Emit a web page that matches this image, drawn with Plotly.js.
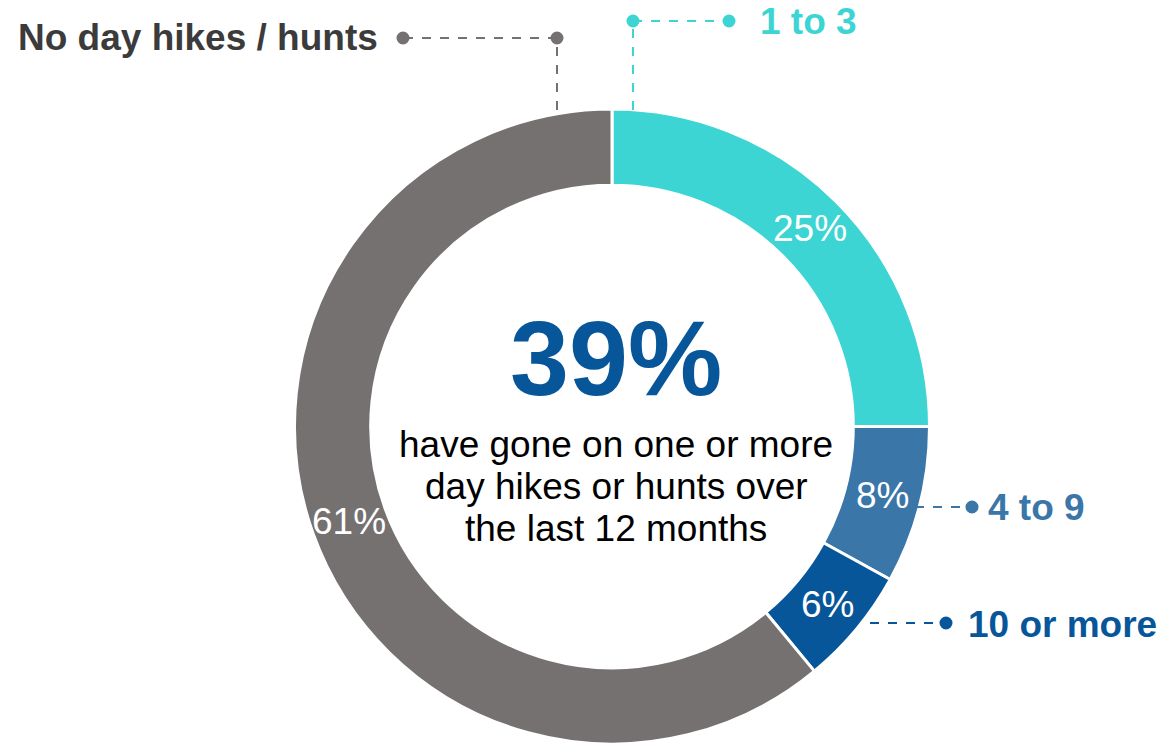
<!DOCTYPE html>
<html>
<head>
<meta charset="utf-8">
<script src="https://cdn.plot.ly/plotly-3.0.1.min.js"></script>
<style>html,body{margin:0;padding:0;background:#fff;}#chart{width:1161px;height:744px;}</style>
</head>
<body>
<div id="chart"></div>
<script>
const categories = ["1 to 3", "4 to 9", "10 or more", "No day hikes / hunts"];
const values = [25, 8, 6, 61];
const colors = ["#3DD5D3", "#3A76A8", "#08569A", "#767171"];
const labelColors = ["#3DD5D3", "#3A76A8", "#08569A", "#3B3B3B"];
const headline = "39%";
const subtitleLines = ["have gone on one or more", "day hikes or hunts over", "the last 12 months"];

const W = 1161, H = 744;
const px = x => x / W;
const py = y => 1 - y / H;
const FONT = "Liberation Sans, Arial, sans-serif";

// donut geometry (pixels)
const CX = 612, CY = 426.5, R = 317.5, HOLE = 0.76;

const trace = {
  type: "pie",
  labels: categories,
  values: values,
  sort: false,
  direction: "clockwise",
  rotation: 0,
  hole: HOLE,
  marker: {colors: colors, line: {color: "#ffffff", width: 3}},
  textinfo: "none",
  hoverinfo: "label+percent",
  showlegend: false,
  domain: {x: [px(CX - R), px(CX + R)], y: [0, py(CY - R)]}
};

// callout geometry (pixel space)
const callouts = [
  {pts: [[633, 110], [633, 21], [729, 21]], dots: [[633, 21], [729, 21]], text: [758, 22, "left"]},
  {pts: [[915, 507], [972, 507]], dots: [[972, 507]], text: [986, 508, "left"]},
  {pts: [[870, 623], [946, 623]], dots: [[946, 623]], text: [966, 624, "left"]},
  {pts: [[557, 110], [557, 38], [403, 38]], dots: [[557, 38], [403, 38]], text: [380, 38, "right"]}
];

const shapes = [];
const annotations = [];
callouts.forEach((c, i) => {
  const col = colors[i];
  for (let k = 0; k < c.pts.length - 1; k++) {
    shapes.push({type: "line", xref: "paper", yref: "paper",
      x0: px(c.pts[k][0]), y0: py(c.pts[k][1]), x1: px(c.pts[k+1][0]), y1: py(c.pts[k+1][1]),
      line: {color: col, width: 2, dash: "dash"}});
  }
  c.dots.forEach(d => {
    const r = 6.5;
    shapes.push({type: "circle", xref: "paper", yref: "paper",
      x0: px(d[0] - r), x1: px(d[0] + r), y0: py(d[1] + r), y1: py(d[1] - r),
      fillcolor: col, line: {color: col, width: 0}});
  });
  annotations.push({xref: "paper", yref: "paper", x: px(c.text[0]), y: py(c.text[1]),
    xanchor: c.text[2], yanchor: "middle", showarrow: false,
    text: "<b>" + categories[i] + "</b>",
    font: {family: FONT, size: 37, color: labelColors[i]}});
});

// slice percentage labels at the middle of each ring segment
const total = values.reduce((a, b) => a + b, 0);
const midR = R * (1 + HOLE) / 2;
let cum = 0;
values.forEach(v => {
  const mid = (cum + v / 2) / total * 2 * Math.PI;
  cum += v;
  const x = CX + midR * Math.sin(mid);
  const y = CY - midR * Math.cos(mid);
  annotations.push({xref: "paper", yref: "paper", x: px(x), y: py(y), xanchor: "center", yanchor: "middle",
    showarrow: false, text: Math.round(v / total * 100) + "%",
    font: {family: FONT, size: 37, color: "#ffffff"}});
});

annotations.push({xref: "paper", yref: "paper", x: px(616), y: py(358), xanchor: "center", yanchor: "middle",
  showarrow: false, text: "<b>" + headline + "</b>", font: {family: FONT, size: 106, color: "#08569A"}});
const lineY = [444, 486, 528];
subtitleLines.forEach((t, i) => {
  annotations.push({xref: "paper", yref: "paper", x: px(616), y: py(lineY[i]), xanchor: "center", yanchor: "middle",
    showarrow: false, text: t, font: {family: FONT, size: 37, color: "#000000"}});
});

const layout = {
  width: W, height: H,
  margin: {l: 0, r: 0, t: 0, b: 0},
  paper_bgcolor: "#ffffff",
  showlegend: false,
  shapes: shapes,
  annotations: annotations
};

Plotly.newPlot("chart", [trace], layout, {displayModeBar: false, staticPlot: true});
</script>
</body>
</html>
